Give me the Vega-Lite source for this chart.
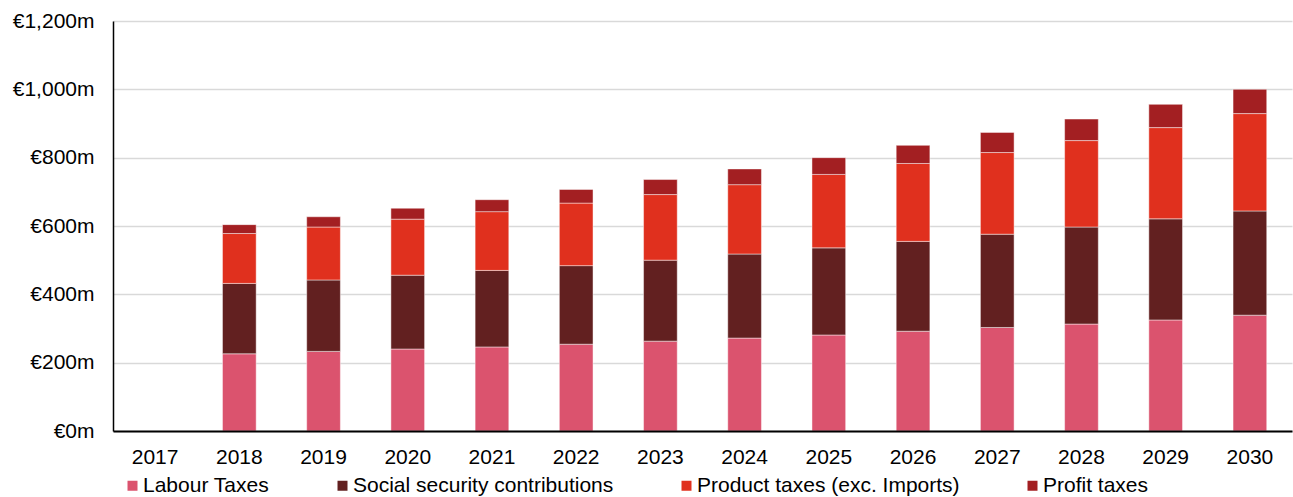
{
  "$schema": "https://vega.github.io/schema/vega-lite/v6.json",
  "autosize": {"type": "none"},
  "width": 1179,
  "height": 410,
  "padding": {"left": 113, "top": 21, "right": 1, "bottom": 66},
  "background": "white",
  "config": {
    "view": {"stroke": null},
    "font": "Liberation Sans",
    "axis": {"labelFont": "Liberation Sans", "labelFontSize": 21, "labelColor": "#000000"},
    "legend": {"labelFont": "Liberation Sans", "labelFontSize": 21, "labelColor": "#000000"}
  },
  "data": {
    "values": [
      {"year": "2018", "type": "Labour Taxes", "k": 0, "value": 226},
      {"year": "2018", "type": "Social security contributions", "k": 1, "value": 206},
      {"year": "2018", "type": "Product taxes (exc. Imports)", "k": 2, "value": 146},
      {"year": "2018", "type": "Profit taxes", "k": 3, "value": 26},
      {"year": "2019", "type": "Labour Taxes", "k": 0, "value": 233},
      {"year": "2019", "type": "Social security contributions", "k": 1, "value": 209},
      {"year": "2019", "type": "Product taxes (exc. Imports)", "k": 2, "value": 155},
      {"year": "2019", "type": "Profit taxes", "k": 3, "value": 30},
      {"year": "2020", "type": "Labour Taxes", "k": 0, "value": 240},
      {"year": "2020", "type": "Social security contributions", "k": 1, "value": 216},
      {"year": "2020", "type": "Product taxes (exc. Imports)", "k": 2, "value": 164},
      {"year": "2020", "type": "Profit taxes", "k": 3, "value": 32},
      {"year": "2021", "type": "Labour Taxes", "k": 0, "value": 246},
      {"year": "2021", "type": "Social security contributions", "k": 1, "value": 224},
      {"year": "2021", "type": "Product taxes (exc. Imports)", "k": 2, "value": 172},
      {"year": "2021", "type": "Profit taxes", "k": 3, "value": 35},
      {"year": "2022", "type": "Labour Taxes", "k": 0, "value": 254},
      {"year": "2022", "type": "Social security contributions", "k": 1, "value": 230},
      {"year": "2022", "type": "Product taxes (exc. Imports)", "k": 2, "value": 183},
      {"year": "2022", "type": "Profit taxes", "k": 3, "value": 40},
      {"year": "2023", "type": "Labour Taxes", "k": 0, "value": 263},
      {"year": "2023", "type": "Social security contributions", "k": 1, "value": 237},
      {"year": "2023", "type": "Product taxes (exc. Imports)", "k": 2, "value": 192},
      {"year": "2023", "type": "Profit taxes", "k": 3, "value": 44},
      {"year": "2024", "type": "Labour Taxes", "k": 0, "value": 272},
      {"year": "2024", "type": "Social security contributions", "k": 1, "value": 246},
      {"year": "2024", "type": "Product taxes (exc. Imports)", "k": 2, "value": 203},
      {"year": "2024", "type": "Profit taxes", "k": 3, "value": 46},
      {"year": "2025", "type": "Labour Taxes", "k": 0, "value": 281},
      {"year": "2025", "type": "Social security contributions", "k": 1, "value": 255},
      {"year": "2025", "type": "Product taxes (exc. Imports)", "k": 2, "value": 215},
      {"year": "2025", "type": "Profit taxes", "k": 3, "value": 49},
      {"year": "2026", "type": "Labour Taxes", "k": 0, "value": 292},
      {"year": "2026", "type": "Social security contributions", "k": 1, "value": 263},
      {"year": "2026", "type": "Product taxes (exc. Imports)", "k": 2, "value": 228},
      {"year": "2026", "type": "Profit taxes", "k": 3, "value": 53},
      {"year": "2027", "type": "Labour Taxes", "k": 0, "value": 303},
      {"year": "2027", "type": "Social security contributions", "k": 1, "value": 273},
      {"year": "2027", "type": "Product taxes (exc. Imports)", "k": 2, "value": 239},
      {"year": "2027", "type": "Profit taxes", "k": 3, "value": 59},
      {"year": "2028", "type": "Labour Taxes", "k": 0, "value": 313},
      {"year": "2028", "type": "Social security contributions", "k": 1, "value": 284},
      {"year": "2028", "type": "Product taxes (exc. Imports)", "k": 2, "value": 253},
      {"year": "2028", "type": "Profit taxes", "k": 3, "value": 63},
      {"year": "2029", "type": "Labour Taxes", "k": 0, "value": 325},
      {"year": "2029", "type": "Social security contributions", "k": 1, "value": 296},
      {"year": "2029", "type": "Product taxes (exc. Imports)", "k": 2, "value": 267},
      {"year": "2029", "type": "Profit taxes", "k": 3, "value": 68},
      {"year": "2030", "type": "Labour Taxes", "k": 0, "value": 339},
      {"year": "2030", "type": "Social security contributions", "k": 1, "value": 305},
      {"year": "2030", "type": "Product taxes (exc. Imports)", "k": 2, "value": 285},
      {"year": "2030", "type": "Profit taxes", "k": 3, "value": 71}
    ]
  },
  "mark": {"type": "bar", "stroke": "#ffffff", "strokeOpacity": 0.45, "strokeWidth": 1},
  "encoding": {
    "x": {
      "field": "year",
      "type": "ordinal",
      "scale": {
        "domain": ["2017","2018","2019","2020","2021","2022","2023","2024","2025","2026","2027","2028","2029","2030"],
        "paddingInner": 0.6,
        "paddingOuter": 0.3
      },
      "axis": {
        "title": null,
        "labelAngle": 0,
        "ticks": false,
        "tickSize": 0,
        "labelPadding": 15,
        "domainColor": "#000000",
        "domainWidth": 2,
        "grid": false,
        "zindex": 1
      }
    },
    "y": {
      "field": "value",
      "type": "quantitative",
      "stack": "zero",
      "scale": {"domain": [0, 1200], "nice": false},
      "axis": {
        "title": null,
        "values": [0, 200, 400, 600, 800, 1000, 1200],
        "labelExpr": "'€' + format(datum.value, ',') + 'm'",
        "ticks": false,
        "tickSize": 0,
        "labelPadding": 19,
        "domainColor": "#000000",
        "domainWidth": 1.5,
        "gridColor": "#d9d9d9",
        "gridWidth": 1.3,
        "zindex": 0
      }
    },
    "color": {
      "field": "type",
      "type": "nominal",
      "scale": {
        "domain": ["Labour Taxes", "Social security contributions", "Product taxes (exc. Imports)", "Profit taxes"],
        "range": ["#DB536E", "#622020", "#E0301E", "#A31F22"]
      },
      "legend": {
        "title": null,
        "orient": "none",
        "direction": "horizontal",
        "legendX": 9,
        "legendY": 454,
        "symbolType": "square",
        "symbolSize": 100,
        "symbolStrokeWidth": 0,
        "labelOffset": 0,
        "columnPadding": 62,
        "padding": 0,
        "labelLimit": 400
      }
    },
    "order": {"field": "k", "type": "quantitative", "sort": "ascending"}
  }
}
